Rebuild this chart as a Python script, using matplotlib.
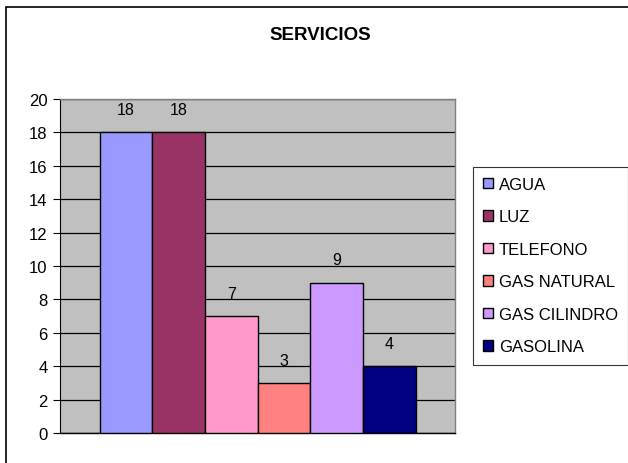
import matplotlib
matplotlib.use('Agg')
import matplotlib.pyplot as plt
from matplotlib.patches import Rectangle

plt.rcParams['font.family'] = ['Liberation Sans', 'DejaVu Sans']

servicios = ['AGUA', 'LUZ', 'TELEFONO', 'GAS NATURAL', 'GAS CILINDRO', 'GASOLINA']
valores = [18, 18, 7, 3, 9, 4]
colores = ['#9999FF', '#993366', '#FF99CC', '#FF8080', '#CC99FF', '#000080']
yticks = [0, 2, 4, 6, 8, 10, 12, 14, 16, 18, 20]


def main():
    fig = plt.figure(figsize=(6.28, 4.64), dpi=100)
    fig.patch.set_facecolor('white')

    # outer chart frame (runs off the right/bottom edge like the original)
    fig.patches.append(Rectangle((6 / 628, -0.05), 1.1, (464 - 8) / 464 + 0.05,
                                 transform=fig.transFigure, fill=False,
                                 edgecolor='black', linewidth=1.2))

    ax = fig.add_axes([60 / 628, 30 / 464, 395 / 628, 334 / 464])
    ax.set_facecolor('#C0C0C0')

    n = len(valores)
    handles = []
    for i, (nom, val, col) in enumerate(zip(servicios, valores, colores)):
        x = i - (n - 1) / 2
        b = ax.bar(x, val, width=1.0, color=col, edgecolor='black',
                   linewidth=1.0, label=nom, zorder=3)
        handles.append(b)
        ax.annotate(str(val), (x, val), xytext=(0, 11), textcoords='offset points',
                    ha='center', va='bottom', fontsize=11.5)

    ax.set_xlim(-3.75, 3.75)
    ax.set_ylim(0, 20)
    ax.set_yticks(yticks)
    ax.set_xticks([])
    ax.yaxis.grid(True, color='black', linewidth=0.9, zorder=1)
    ax.set_axisbelow(True)
    ax.tick_params(axis='y', direction='out', length=5, labelsize=12, pad=4)

    for s in ['top', 'right', 'bottom']:
        ax.spines[s].set_color('#808080')
        ax.spines[s].set_linewidth(1.0)
    ax.spines['left'].set_color('black')
    ax.spines['bottom'].set_color('black')

    fig.text(320 / 628, 1 - 36 / 464, 'SERVICIOS', ha='center', va='center',
             fontsize=13.5, fontweight='bold')

    leg = fig.legend(handles=handles, labels=servicios, loc='upper left',
                     bbox_to_anchor=(473 / 628, 1 - 168 / 464),
                     fontsize=12, frameon=True, fancybox=False,
                     handlelength=0.6, handleheight=0.6, handletextpad=0.35,
                     labelspacing=1.05, borderpad=0.6, borderaxespad=0)
    leg.get_frame().set_edgecolor('black')
    leg.get_frame().set_linewidth(0.8)

    fig.savefig('out.png', dpi=100)


if __name__ == "__main__":
    main()
